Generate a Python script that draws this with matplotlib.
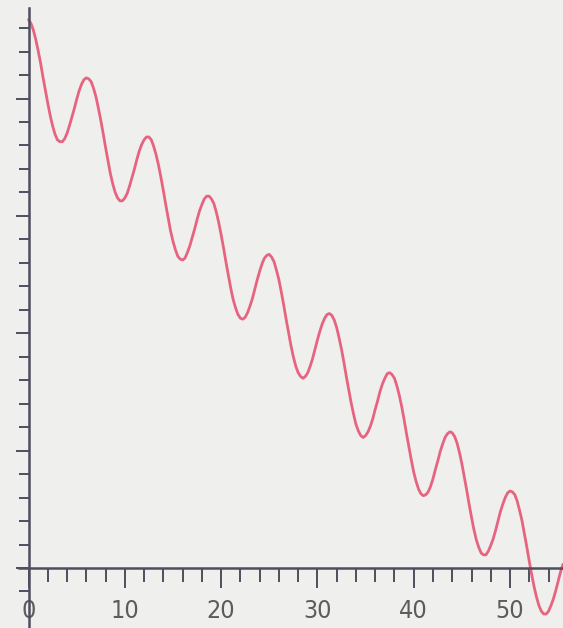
import matplotlib
matplotlib.use("Agg")
import matplotlib.pyplot as plt
from matplotlib.ticker import FixedLocator

# sample positions along x and the measured curve height at each
x_vals = [
    0.0, 0.25, 0.5, 0.75, 1.0, 1.25, 1.5, 1.75,
    2.0, 2.25, 2.5, 2.75, 3.0, 3.25, 3.5, 3.75,
    4.0, 4.25, 4.5, 4.75, 5.0, 5.25, 5.5, 5.75,
    6.0, 6.25, 6.5, 6.75, 7.0, 7.25, 7.5, 7.75,
    8.0, 8.25, 8.5, 8.75, 9.0, 9.25, 9.5, 9.75,
    10.0, 10.25, 10.5, 10.75, 11.0, 11.25, 11.5, 11.75,
    12.0, 12.25, 12.5, 12.75, 13.0, 13.25, 13.5, 13.75,
    14.0, 14.25, 14.5, 14.75, 15.0, 15.25, 15.5, 15.75,
    16.0, 16.25, 16.5, 16.75, 17.0, 17.25, 17.5, 17.75,
    18.0, 18.25, 18.5, 18.75, 19.0, 19.25, 19.5, 19.75,
    20.0, 20.25, 20.5, 20.75, 21.0, 21.25, 21.5, 21.75,
    22.0, 22.25, 22.5, 22.75, 23.0, 23.25, 23.5, 23.75,
    24.0, 24.25, 24.5, 24.75, 25.0, 25.25, 25.5, 25.75,
    26.0, 26.25, 26.5, 26.75, 27.0, 27.25, 27.5, 27.75,
    28.0, 28.25, 28.5, 28.75, 29.0, 29.25, 29.5, 29.75,
    30.0, 30.25, 30.5, 30.75, 31.0, 31.25, 31.5, 31.75,
    32.0, 32.25, 32.5, 32.75, 33.0, 33.25, 33.5, 33.75,
    34.0, 34.25, 34.5, 34.75, 35.0, 35.25, 35.5, 35.75,
    36.0, 36.25, 36.5, 36.75, 37.0, 37.25, 37.5, 37.75,
    38.0, 38.25, 38.5, 38.75, 39.0, 39.25, 39.5, 39.75,
    40.0, 40.25, 40.5, 40.75, 41.0, 41.25, 41.5, 41.75,
    42.0, 42.25, 42.5, 42.75, 43.0, 43.25, 43.5, 43.75,
    44.0, 44.25, 44.5, 44.75, 45.0, 45.25, 45.5, 45.75,
    46.0, 46.25, 46.5, 46.75, 47.0, 47.25, 47.5, 47.75,
    48.0, 48.25, 48.5, 48.75, 49.0, 49.25, 49.5, 49.75,
    50.0, 50.25, 50.5, 50.75, 51.0, 51.25, 51.5, 51.75,
    52.0, 52.25, 52.5, 52.75, 53.0, 53.25, 53.5, 53.75,
    54.0, 54.25, 54.5, 54.75, 55.0, 55.25, 55.5,
]
y_vals = [
    58.4, 58.0, 57.3, 56.3, 55.1, 53.8, 52.3, 50.9,
    49.5, 48.2, 47.1, 46.2, 45.6, 45.4, 45.4, 45.7,
    46.3, 47.1, 48.0, 48.9, 49.9, 50.8, 51.5, 52.0,
    52.2, 52.1, 51.8, 51.1, 50.2, 49.0, 47.7, 46.3,
    44.8, 43.4, 42.0, 40.9, 40.0, 39.4, 39.1, 39.1,
    39.4, 39.9, 40.7, 41.6, 42.5, 43.5, 44.4, 45.1,
    45.6, 45.9, 45.9, 45.6, 44.9, 44.0, 42.9, 41.6,
    40.2, 38.7, 37.3, 35.9, 34.8, 33.9, 33.2, 32.9,
    32.8, 33.0, 33.6, 34.3, 35.2, 36.1, 37.1, 38.0,
    38.7, 39.3, 39.6, 39.6, 39.3, 38.8, 37.9, 36.8,
    35.5, 34.1, 32.6, 31.2, 29.8, 28.6, 27.7, 27.0,
    26.6, 26.5, 26.7, 27.2, 27.9, 28.7, 29.7, 30.7,
    31.6, 32.4, 33.0, 33.3, 33.4, 33.1, 32.6, 31.7,
    30.7, 29.4, 28.0, 26.5, 25.1, 23.7, 22.5, 21.5,
    20.8, 20.4, 20.2, 20.4, 20.8, 21.5, 22.3, 23.3,
    24.3, 25.2, 26.0, 26.6, 27.0, 27.1, 26.9, 26.4,
    25.6, 24.5, 23.3, 21.9, 20.4, 19.0, 17.6, 16.4,
    15.3, 14.6, 14.1, 13.9, 14.1, 14.5, 15.1, 15.9,
    16.9, 17.8, 18.8, 19.6, 20.2, 20.7, 20.8, 20.6,
    20.2, 19.4, 18.4, 17.2, 15.8, 14.3, 12.9, 11.5,
    10.2, 9.2, 8.4, 7.9, 7.7, 7.8, 8.1, 8.7,
    9.5, 10.5, 11.4, 12.4, 13.2, 13.9, 14.3, 14.5,
    14.4, 14.0, 13.3, 12.3, 11.1, 9.7, 8.3, 6.8,
    5.4, 4.1, 3.0, 2.2, 1.6, 1.4, 1.4, 1.8,
    2.4, 3.1, 4.0, 5.0, 6.0, 6.8, 7.5, 8.0,
    8.2, 8.1, 7.8, 7.1, 6.1, 5.0, 3.6, 2.2,
    0.7, -0.7, -2.0, -3.1, -4.0, -4.6, -4.9, -4.9,
    -4.6, -4.0, -3.3, -2.4, -1.4, -0.4, 0.4,
]

x_major = [0, 10, 20, 30, 40, 50]
x_labels = ["0", "10", "20", "30", "40", "50"]
x_minor = [2, 4, 6, 8, 12, 14, 16, 18, 22, 24, 26, 28, 32, 34, 36, 38,
           42, 44, 46, 48, 52, 54]
y_major = [0, 12.5, 25, 37.5, 50]
y_minor = [-2.5, 2.5, 5, 7.5, 10, 15, 17.5, 20, 22.5, 27.5, 30, 32.5, 35,
           40, 42.5, 45, 47.5, 52.5, 55, 57.5]

bg = "#efefed"
axis_col = "#4e4e60"
line_col = "#e6647f"
label_col = "#5c5c5c"

fig = plt.figure(figsize=(5.63, 6.28), dpi=100, facecolor=bg)
ax = fig.add_axes([0, 0, 1, 1], facecolor=bg)
ax.set_xlim(-2.96, 55.5)
ax.set_ylim(-6.39, 60.49)

ax.plot(x_vals, y_vals, color=line_col, lw=2.0, solid_joinstyle="round",
        solid_capstyle="round", zorder=3)

for s in ("top", "right"):
    ax.spines[s].set_visible(False)
ax.spines["left"].set_position(("data", 0))
ax.spines["bottom"].set_position(("data", 0))
ax.spines["left"].set_bounds(-6.39, 59.6)
ax.spines["bottom"].set_bounds(-1.0, 55.5)
for s in ("left", "bottom"):
    ax.spines[s].set_color(axis_col)
    ax.spines[s].set_linewidth(1.8)
    ax.spines[s].set_zorder(4)

ax.xaxis.set_major_locator(FixedLocator(x_major))
ax.xaxis.set_minor_locator(FixedLocator(x_minor))
ax.set_xticklabels(x_labels)
ax.yaxis.set_major_locator(FixedLocator(y_major))
ax.yaxis.set_minor_locator(FixedLocator(y_minor))
ax.set_yticklabels([])

ax.tick_params(axis="x", which="major", direction="out", length=14.5,
               width=1.4, color=axis_col, pad=8, labelsize=18,
               labelcolor=label_col)
ax.tick_params(axis="x", which="minor", direction="out", length=10,
               width=1.4, color=axis_col)
ax.tick_params(axis="y", which="major", direction="out", length=9.5,
               width=1.4, color=axis_col)
ax.tick_params(axis="y", which="minor", direction="out", length=7.2,
               width=1.4, color=axis_col)

for lbl in ax.get_xticklabels():
    lbl.set_fontfamily("DejaVu Sans")
    lbl.set_fontstretch("condensed")

fig.savefig("out.png", dpi=100, facecolor=bg)
